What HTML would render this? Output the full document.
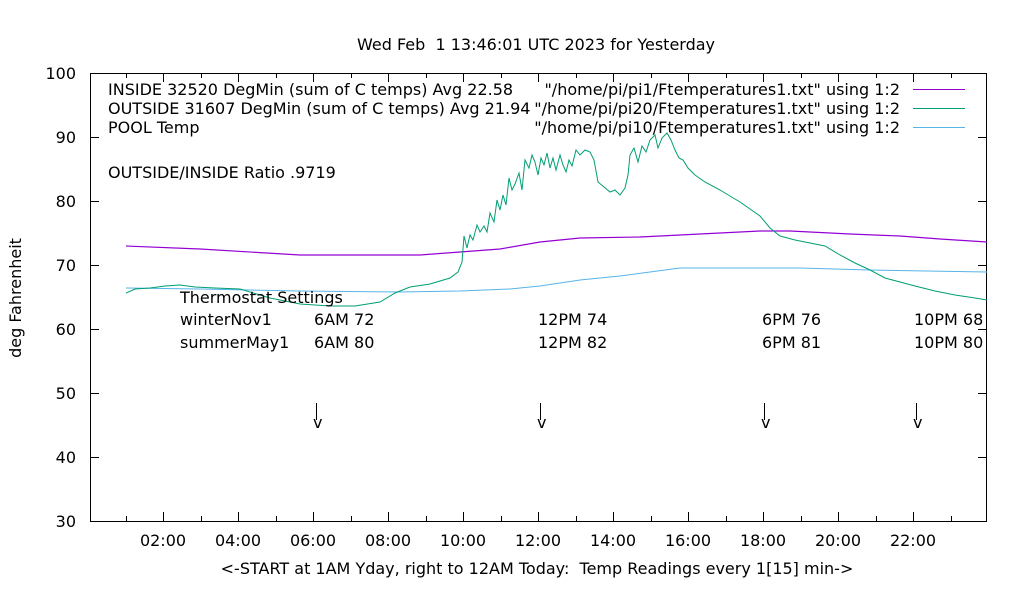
<!DOCTYPE html>
<html><head><meta charset="utf-8"><style>
html,body{margin:0;padding:0;background:#fff}
svg{display:block}
text{font-family:"DejaVu Sans","Liberation Sans",sans-serif;font-size:16px;fill:#000;white-space:pre}
</style></head><body>
<svg width="1020" height="600" xmlns="http://www.w3.org/2000/svg">
<rect width="1020" height="600" fill="#fff"/>
<text x="536" y="50" text-anchor="middle">Wed Feb  1 13:46:01 UTC 2023 for Yesterday</text>
<g stroke="#000" stroke-width="1" fill="none">
<rect x="90.5" y="73.5" width="896" height="448"/>
<path d="M90 137.5h9M987 137.5h-9M90 201.5h9M987 201.5h-9M90 265.5h9M987 265.5h-9M90 329.5h9M987 329.5h-9M90 393.5h9M987 393.5h-9M90 457.5h9M987 457.5h-9"/>
<path d="M163.5 521v-9M163.5 73v9M238.5 521v-9M238.5 73v9M313.5 521v-9M313.5 73v9M388.5 521v-9M388.5 73v9M463.5 521v-9M463.5 73v9M538.5 521v-9M538.5 73v9M613.5 521v-9M613.5 73v9M688.5 521v-9M688.5 73v9M763.5 521v-9M763.5 73v9M838.5 521v-9M838.5 73v9M913.5 521v-9M913.5 73v9"/>
<path d="M126.5 521v-5M126.5 73v5M201.5 521v-5M201.5 73v5M276.5 521v-5M276.5 73v5M351.5 521v-5M351.5 73v5M426.5 521v-5M426.5 73v5M501.5 521v-5M501.5 73v5M576.5 521v-5M576.5 73v5M651.5 521v-5M651.5 73v5M726.5 521v-5M726.5 73v5M801.5 521v-5M801.5 73v5M876.5 521v-5M876.5 73v5M951.5 521v-5M951.5 73v5"/>
</g>
<g text-anchor="end">
<text x="76" y="79">100</text><text x="76" y="143">90</text><text x="76" y="207">80</text><text x="76" y="271">70</text><text x="76" y="335">60</text><text x="76" y="399">50</text><text x="76" y="463">40</text><text x="76" y="527">30</text>
</g>
<g text-anchor="middle">
<text x="163" y="546">02:00</text><text x="238" y="546">04:00</text><text x="313" y="546">06:00</text><text x="388" y="546">08:00</text><text x="463" y="546">10:00</text><text x="538" y="546">12:00</text><text x="613" y="546">14:00</text><text x="688" y="546">16:00</text><text x="763" y="546">18:00</text><text x="838" y="546">20:00</text><text x="913" y="546">22:00</text>
<text x="537" y="574">&lt;-START at 1AM Yday, right to 12AM Today:  Temp Readings every 1[15] min-&gt;</text>
</g>
<text transform="translate(21,298) rotate(-90)" text-anchor="middle">deg Fahrenheit</text>
<text x="108" y="95">INSIDE 32520 DegMin (sum of C temps) Avg 22.58</text>
<text x="108" y="114">OUTSIDE 31607 DegMin (sum of C temps) Avg 21.94</text>
<text x="108" y="133">POOL Temp</text>
<text x="108" y="178">OUTSIDE/INSIDE Ratio .9719</text>
<g text-anchor="end">
<text x="900" y="95">"/home/pi/pi1/Ftemperatures1.txt" using 1:2</text>
<text x="900" y="114">"/home/pi/pi20/Ftemperatures1.txt" using 1:2</text>
<text x="900" y="133">"/home/pi/pi10/Ftemperatures1.txt" using 1:2</text>
</g>
<path d="M913 89.5h52" stroke="#9400d3"/>
<path d="M913 108.5h52" stroke="#009e73"/>
<path d="M913 127.5h52" stroke="#56b4e9"/>
<polyline fill="none" stroke="#56b4e9" stroke-width="1" points="126,288 200,289 300,291 400,292 460,291 510,289 540,286 580,280 620,276 680,268 800,268 870,270 987,272"/>
<polyline fill="none" stroke="#9400d3" stroke-width="1.2" points="126,246 200,249 300,255 420,255 460,252 500,249 540,242 580,238 640,237 700,234 760,231 790,231 850,234 900,236 940,239 987,242"/>
<polyline fill="none" stroke="#009e73" stroke-width="1" points="126,293 135,289 150,288 165,286 180,285 195,287 215,288 240,289 270,298 300,304 330,306 355,306 380,302 395,293 410,287 430,284 450,278 458,272 462,262 464,236 467,248 470,235 473,240 477,225 480,232 484,226 487,232 490,213 494,222 497,200 500,210 503,195 506,205 509,178 512,190 515,184 519,173 522,190 525,160 529,168 532,155 535,162 538,175 541,158 544,165 547,153 550,168 553,158 556,170 560,155 563,165 566,172 569,160 572,166 576,150 580,155 585,150 590,152 594,160 598,182 604,187 610,192 615,190 620,195 625,188 628,175 630,155 634,148 638,162 642,146 646,152 650,140 655,135 658,148 662,138 667,133 671,140 675,150 679,158 683,160 688,168 695,175 705,182 720,190 740,202 760,216 770,228 780,236 795,240 810,243 825,246 840,255 855,263 870,270 885,278 900,282 915,286 935,291 955,295 975,298 987,300"/>
<text x="180" y="303">Thermostat Settings</text>
<text x="180" y="325">winterNov1</text><text x="180" y="348">summerMay1</text>
<text x="314" y="325">6AM 72</text><text x="314" y="348">6AM 80</text>
<text x="538" y="325">12PM 74</text><text x="538" y="348">12PM 82</text>
<text x="762" y="325">6PM 76</text><text x="762" y="348">6PM 81</text>
<text x="914" y="325">10PM 68</text><text x="914" y="348">10PM 80</text>
<g stroke="#000" stroke-width="1">
<path d="M316.5 403v17M540.5 403v17M764.5 403v17M916.5 403v17"/>
</g>
<text x="313" y="428">v</text><text x="537" y="428">v</text><text x="761" y="428">v</text><text x="913" y="428">v</text>
</svg>
</body></html>
